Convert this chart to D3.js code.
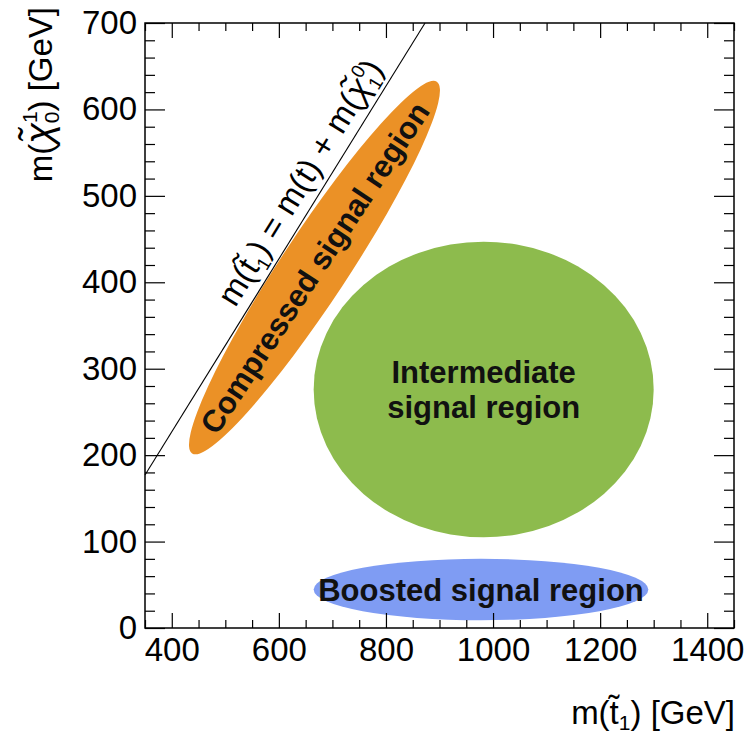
<!DOCTYPE html>
<html>
<head>
<meta charset="utf-8">
<script src="https://cdn.jsdelivr.net/npm/d3@7"></script>
<style>
  body { margin: 0; background: #fff; }
  svg { display: block; font-family: "Liberation Sans", Arial, Helvetica, sans-serif; }
  .tick text { fill: #000; font-family: "Liberation Sans", Arial, sans-serif; }
  .tick line { stroke: #000; stroke-width: 1.2; }
  .region-label { font-weight: bold; font-size: 31px; fill: #111; text-anchor: middle; }
  .title { font-size: 33px; fill: #000; }
</style>
</head>
<body>
<script>
const width = 750;
const height = 737;
const margin = { top: 23, right: 16, bottom: 109, left: 145 };

const xDomain = [350, 1450];
const yDomain = [0, 700];
const xTicks = [400, 600, 800, 1000, 1200, 1400];
const yTicks = [0, 100, 200, 300, 400, 500, 600, 700];
const xMinorStep = 50;
const yMinorStep = 20;

// kinematic limit m(stop) = m(t) + m(LSP)
const topMass = 173;

const regionNames = ['Compressed signal region', 'Intermediate signal region', 'Boosted signal region'];
const regionColors = ['#eb9126', '#8dbb4d', '#7f9cf3'];
// compressed region: ends of its long axis, [m(stop), m(LSP)]
const compressedTips = [[438, 202], [895, 632]];
const compressedThickness = 0.15; // short axis / long axis
// other regions: [xmin, xmax], [ymin, ymax]
const intermediateBox = [[665, 1300], [105, 447]];
const boostedBox = [[665, 1290], [9, 80]];

const x = d3.scaleLinear()
  .domain(xDomain)
  .range([margin.left, width - margin.right]);

const y = d3.scaleLinear()
  .domain(yDomain)
  .range([height - margin.bottom, margin.top]);

const svg = d3.select('body')
  .append('svg')
    .attr('width', width)
    .attr('height', height);

const minor = (domain, step, majors) =>
  d3.range(domain[0], domain[1] + step / 2, step).filter((v) => !majors.includes(v));

// regions
const regions = svg.append('g').attr('class', 'regions');

const boxEllipse = (box, color) => {
  regions.append('ellipse')
    .attr('cx', (x(box[0][0]) + x(box[0][1])) / 2)
    .attr('cy', (y(box[1][0]) + y(box[1][1])) / 2)
    .attr('rx', (x(box[0][1]) - x(box[0][0])) / 2)
    .attr('ry', (y(box[1][0]) - y(box[1][1])) / 2)
    .attr('fill', color);
};

const p1 = [x(compressedTips[0][0]), y(compressedTips[0][1])];
const p2 = [x(compressedTips[1][0]), y(compressedTips[1][1])];
const cCenter = [(p1[0] + p2[0]) / 2, (p1[1] + p2[1]) / 2];
const cHalf = Math.hypot(p2[0] - p1[0], p2[1] - p1[1]) / 2;
const cAngle = Math.atan2(p2[1] - p1[1], p2[0] - p1[0]) * 180 / Math.PI;

regions.append('ellipse')
  .attr('transform', `translate(${cCenter}) rotate(${cAngle})`)
  .attr('rx', cHalf)
  .attr('ry', cHalf * compressedThickness)
  .attr('fill', regionColors[0]);

boxEllipse(intermediateBox, regionColors[1]);
boxEllipse(boostedBox, regionColors[2]);

// region labels
svg.append('text')
  .attr('class', 'region-label')
  .attr('transform', `translate(${cCenter}) rotate(${cAngle})`)
  .attr('dy', '0.36em')
  .text(regionNames[0]);

const cut = regionNames[1].indexOf(' ');
const midLines = [regionNames[1].slice(0, cut), regionNames[1].slice(cut + 1)];
const iCx = (x(intermediateBox[0][0]) + x(intermediateBox[0][1])) / 2;
const iCy = (y(intermediateBox[1][0]) + y(intermediateBox[1][1])) / 2;
svg.append('text')
  .attr('class', 'region-label')
  .selectAll('tspan')
  .data(midLines)
  .join('tspan')
    .attr('x', iCx)
    .attr('y', (d, i) => iCy + 11 + (i - 0.5) * 35)
    .text((d) => d);

svg.append('text')
  .attr('class', 'region-label')
  .attr('x', (x(boostedBox[0][0]) + x(boostedBox[0][1])) / 2)
  .attr('y', (y(boostedBox[1][0]) + y(boostedBox[1][1])) / 2)
  .attr('dy', '0.36em')
  .text(regionNames[2]);

// diagonal limit line
const limit = [[xDomain[0], xDomain[0] - topMass], [yDomain[1] + topMass, yDomain[1]]];
svg.append('path')
  .attr('d', d3.line().x((d) => x(d[0])).y((d) => y(d[1]))(limit))
  .attr('fill', 'none')
  .attr('stroke', '#000')
  .attr('stroke-width', 1.1);

const lAngle = Math.atan2(y(limit[1][1]) - y(limit[0][1]), x(limit[1][0]) - x(limit[0][0])) * 180 / Math.PI;
const lAt = 675;
const limitLabel = svg.append('text')
  .attr('class', 'title')
  .attr('font-size', 30)
  .attr('text-anchor', 'middle')
  .attr('transform', `translate(${x(lAt)}, ${y(lAt - topMass)}) rotate(${lAngle}) translate(0, -11)`);
limitLabel.append('tspan').text('m(t\u0303');
limitLabel.append('tspan').attr('font-size', 19).attr('dy', 7).text('1');
limitLabel.append('tspan').attr('dy', -7).text(') = m(t) + m(');
limitLabel.append('tspan').attr('font-style', 'italic').attr('font-size', 34).text('\u03c7\u0303');
limitLabel.append('tspan').attr('font-size', 19).attr('dy', 7).text('1');
limitLabel.append('tspan').attr('font-size', 19).attr('dx', -10).attr('dy', -21).text('0');
limitLabel.append('tspan').attr('dy', 14).text(')');

// axes
const plotBottom = height - margin.bottom;
const plotRight = width - margin.right;

const addAxis = (axis, transform) => {
  const g = svg.append('g').attr('transform', transform).call(axis);
  g.select('.domain').remove();
  return g;
};

addAxis(d3.axisBottom(x).tickValues(xTicks).tickSize(-15).tickPadding(10).tickFormat(d3.format('d')),
  `translate(0, ${plotBottom})`);
addAxis(d3.axisBottom(x).tickValues(minor(xDomain, xMinorStep, xTicks)).tickSize(-8).tickFormat(''),
  `translate(0, ${plotBottom})`);
addAxis(d3.axisTop(x).tickValues(xTicks).tickSize(-15).tickFormat(''),
  `translate(0, ${margin.top})`);
addAxis(d3.axisTop(x).tickValues(minor(xDomain, xMinorStep, xTicks)).tickSize(-8).tickFormat(''),
  `translate(0, ${margin.top})`);

addAxis(d3.axisLeft(y).tickValues(yTicks).tickSize(-20).tickPadding(8).tickFormat(d3.format('d')),
  `translate(${margin.left}, 0)`);
addAxis(d3.axisLeft(y).tickValues(minor(yDomain, yMinorStep, yTicks)).tickSize(-10).tickFormat(''),
  `translate(${margin.left}, 0)`);
addAxis(d3.axisRight(y).tickValues(yTicks).tickSize(-20).tickFormat(''),
  `translate(${plotRight}, 0)`);
addAxis(d3.axisRight(y).tickValues(minor(yDomain, yMinorStep, yTicks)).tickSize(-10).tickFormat(''),
  `translate(${plotRight}, 0)`);

svg.selectAll('.tick text').attr('font-size', 33);

svg.append('rect')
  .attr('x', margin.left)
  .attr('y', margin.top)
  .attr('width', plotRight - margin.left)
  .attr('height', plotBottom - margin.top)
  .attr('fill', 'none')
  .attr('stroke', '#000')
  .attr('stroke-width', 1.5);

// axis titles
const xTitle = svg.append('text')
  .attr('class', 'title')
  .attr('text-anchor', 'end')
  .attr('x', plotRight + 1)
  .attr('y', 724);
xTitle.append('tspan').text('m(t\u0303');
xTitle.append('tspan').attr('font-size', 21).attr('dy', 6).text('1');
xTitle.append('tspan').attr('dy', -6).text(') [GeV]');

const yTitle = svg.append('text')
  .attr('class', 'title')
  .attr('text-anchor', 'end')
  .attr('transform', 'translate(52, 7) rotate(-90)');
yTitle.append('tspan').text('m(');
yTitle.append('tspan').attr('font-style', 'italic').attr('font-size', 38).text('\u03c7\u0303');
yTitle.append('tspan').attr('font-size', 21).attr('dy', -15).text('1');
yTitle.append('tspan').attr('font-size', 21).attr('dx', -12).attr('dy', 22).text('0');
yTitle.append('tspan').attr('dy', -7).text(') [GeV]');
</script>
</body>
</html>
